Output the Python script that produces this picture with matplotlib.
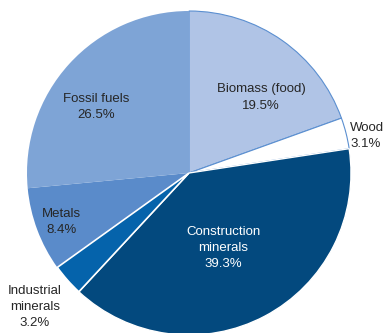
import matplotlib.pyplot as plt

labels = ['Biomass (food)', 'Wood', 'Construction\nminerals', 'Industrial\nminerals', 'Metals', 'Fossil fuels']
shares = [19.5, 3.1, 39.3, 3.2, 8.4, 26.5]
colors = ['#b0c4e6', '#ffffff', '#03497e', '#0563ab', '#5a8bca', '#7ea4d6']

plt.rcParams['font.family'] = ['Liberation Sans', 'DejaVu Sans']

fig = plt.figure(figsize=(3.83, 3.33), dpi=100)
ax = fig.add_axes([27 / 383, -2 / 333, 324 / 383, 324 / 333])

wedges, _ = ax.pie(shares, colors=colors, startangle=90, counterclock=False, radius=1,
                   wedgeprops=dict(linewidth=0))
# biomass and wood have a thin blue outline, industrial minerals a white one
for w in wedges[:2]:
    w.set_edgecolor('#5b8fd0')
    w.set_linewidth(0.8)
    w.set_zorder(1)
for w in wedges[2:]:
    w.set_zorder(2)
wedges[2].set_edgecolor('white')
wedges[2].set_linewidth(1.0)
wedges[3].set_edgecolor('white')
wedges[3].set_linewidth(1.2)
wedges[3].set_zorder(3)

# label placement (data units, pie radius = 1)
spots = [(0.444, 0.466, 'center', '#262626'),
         (0.994, 0.231, 'left', '#262626'),
         (0.21, -0.463, 'center', 'white'),
         (-0.951, -0.827, 'center', '#262626'),
         (-0.79, -0.30, 'center', '#262626'),
         (-0.574, 0.41, 'center', '#262626')]
for lab, val, (x, y, ha, c) in zip(labels, shares, spots):
    ax.text(x, y, f'{lab}\n{val}%', ha=ha, va='center', color=c, fontsize=9.5,
            linespacing=1.45, zorder=5, clip_on=False)

ax.set_xlim(-1, 1)
ax.set_ylim(-1, 1)
ax.set_aspect('equal')
ax.axis('off')

fig.savefig('out.png', dpi=100)
